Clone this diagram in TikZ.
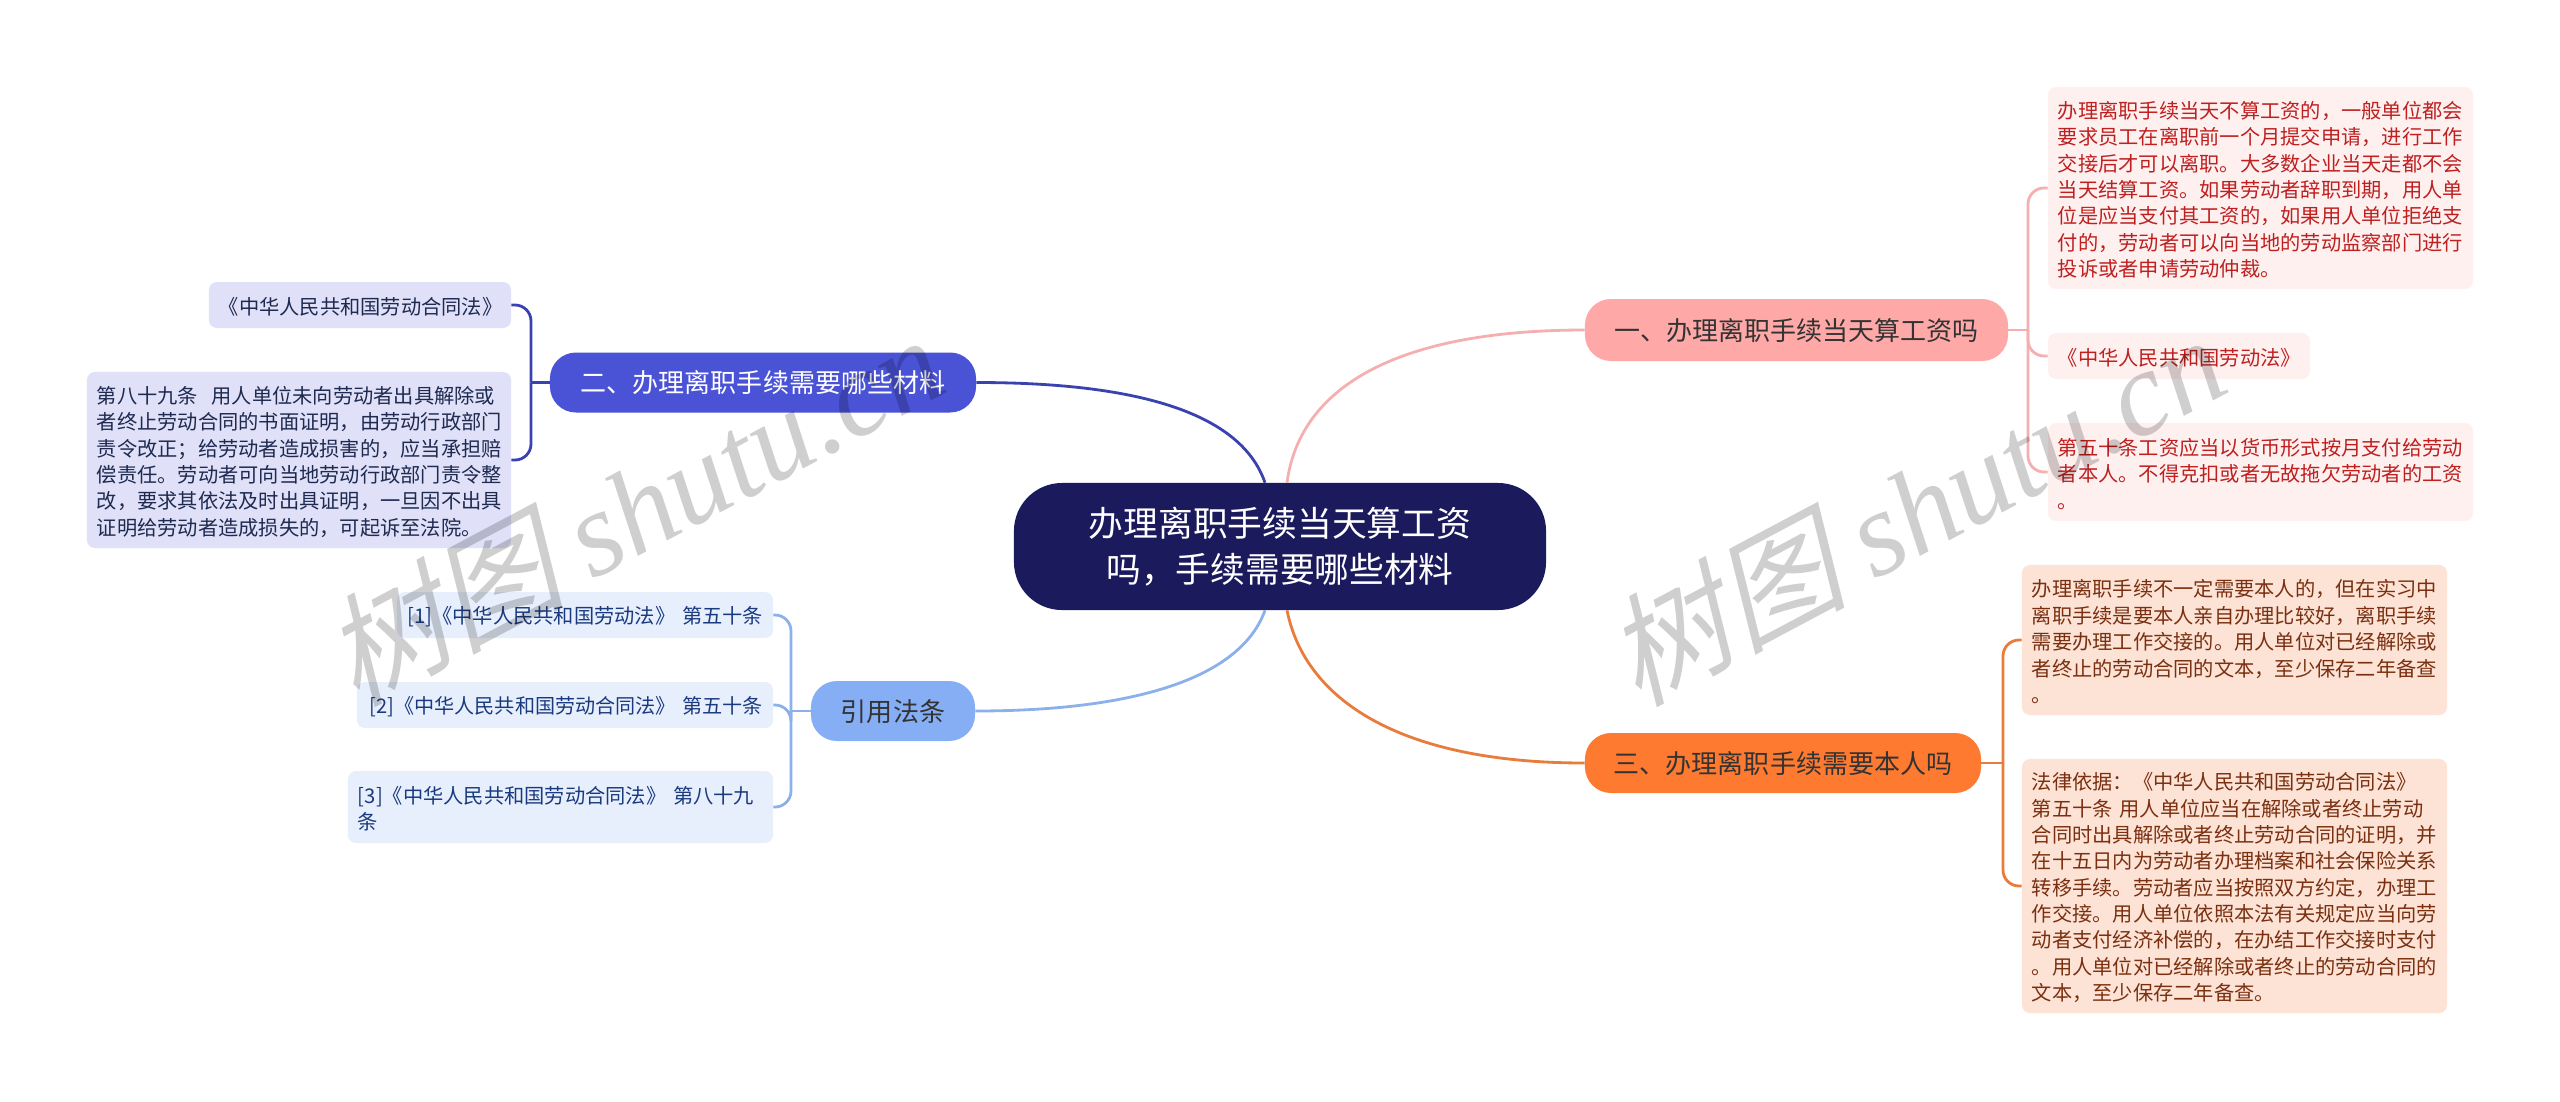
\documentclass[tikz,border=0pt]{standalone}
\usepackage{fontspec}
\usepackage{xcolor}
\usetikzlibrary{calc}
\setmainfont{Noto Sans CJK SC}
\newfontfamily\markcjk[FakeSlant=0.25]{Noto Sans CJK SC}
\newfontfamily\marklatin{Liberation Serif}[ItalicFont=* Italic]
\definecolor{rootfill}{HTML}{1B1A5C}
\definecolor{onefill}{HTML}{FFA8A8}
\definecolor{oneline}{HTML}{F4B0B0}
\definecolor{oneleaf}{HTML}{FFF0F0}
\definecolor{onetext}{HTML}{BE2020}
\definecolor{twofill}{HTML}{4A52D6}
\definecolor{twoline}{HTML}{3A42B0}
\definecolor{twoleaf}{HTML}{E0E1F8}
\definecolor{twotext}{HTML}{1E2A50}
\definecolor{threefill}{HTML}{FD7A30}
\definecolor{threeline}{HTML}{E87C3C}
\definecolor{threeleaf}{HTML}{FDE3D6}
\definecolor{threetext}{HTML}{7A3010}
\definecolor{reffill}{HTML}{85AEF5}
\definecolor{refline}{HTML}{8BB0EA}
\definecolor{refleaf}{HTML}{E7EFFC}
\definecolor{reftext}{HTML}{1A3A80}
\tikzset{
    rootbox/.style={fill=rootfill,text=white,rounded corners=1.2cm,align=center,
        minimum width=13.3cm,minimum height=3.175cm,font=\fontsize{24.7}{33}\selectfont},
    branchbox/.style={rounded corners=.65cm,minimum height=1.5cm,inner sep=0pt,
        text height=1.6em,text depth=.12em,font=\fontsize{18.5}{24}\selectfont},
    leafbox/.style={rounded corners=.2cm,inner xsep=.25cm,inner ysep=0pt,align=left,
        execute at begin node={\rule{0pt}{1.02em}},font=\fontsize{14.4}{18.75}\selectfont},
    link/.style={line width=2pt},
    brace/.style={line width=2pt,rounded corners=.4cm},
    markbox/.style={rotate=28,text=black,opacity=.19,inner sep=0pt}
}
\begin{document}
\begin{tikzpicture}[x=.025cm,y=-.025cm]
    \useasboundingbox (0,0) rectangle (2560,1101);
    \node[rootbox] (root) at (1280,546.5) {办理离职手续当天算工资\\吗，手续需要哪些材料};

    \node[branchbox,fill=onefill,text=black!80,minimum width=10.575cm,minimum height=1.55cm] (one) at (1796.5,330) {一、办理离职手续当天算工资吗};
    \node[branchbox,fill=twofill,text=white,minimum width=10.65cm] (two) at (763,382.5) {二、办理离职手续需要哪些材料};
    \node[branchbox,fill=threefill,text=black!80,minimum width=9.9cm] (three) at (1783,763) {三、办理离职手续需要本人吗};
    \node[branchbox,fill=reffill,text=black!80,minimum width=4.1cm] (refs) at (893,711) {引用法条};

    \node[leafbox,fill=oneleaf,text=onetext,text width=10.125cm,minimum height=5.05cm] (onea) at (2260.5,188) {办理离职手续当天不算工资的，一般单位都会\\要求员工在离职前一个月提交申请，进行工作\\交接后才可以离职。大多数企业当天走都不会\\当天结算工资。如果劳动者辞职到期，用人单\\位是应当支付其工资的，如果用人单位拒绝支\\付的，劳动者可以向当地的劳动监察部门进行\\投诉或者申请劳动仲裁。};
    \node[leafbox,fill=oneleaf,text=onetext,text width=6.05cm,minimum height=1.15cm] (oneb) at (2179,356) {《中华人民共和国劳动法》};
    \node[leafbox,fill=oneleaf,text=onetext,text width=10.125cm,minimum height=2.45cm] (onec) at (2260.5,472) {第五十条工资应当以货币形式按月支付给劳动\\者本人。不得克扣或者无故拖欠劳动者的工资\\。};

    \node[leafbox,fill=threeleaf,text=threetext,text width=10.125cm,minimum height=3.75cm] (threea) at (2234.5,640) {办理离职手续不一定需要本人的，但在实习中\\离职手续是要本人亲自办理比较好，离职手续\\需要办理工作交接的。用人单位对已经解除或\\者终止的劳动合同的文本，至少保存二年备查\\。};
    \node[leafbox,fill=threeleaf,text=threetext,text width=10.125cm,minimum height=6.35cm] (threeb) at (2234.5,886) {法律依据：《中华人民共和国劳动合同法》\\第五十条 用人单位应当在解除或者终止劳动\\合同时出具解除或者终止劳动合同的证明，并\\在十五日内为劳动者办理档案和社会保险关系\\转移手续。劳动者应当按照双方约定，办理工\\作交接。用人单位依照本法有关规定应当向劳\\动者支付经济补偿的，在办结工作交接时支付\\。用人单位对已经解除或者终止的劳动合同的\\文本，至少保存二年备查。};

    \node[leafbox,fill=twoleaf,text=twotext,text width=7.05cm,minimum height=1.15cm] (twoa) at (360,305) {《中华人民共和国劳动合同法》};
    \node[leafbox,fill=twoleaf,text=twotext,text width=10.1cm,minimum height=4.4cm] (twob) at (299,460) {第八十九条\ \ 用人单位未向劳动者出具解除或\\者终止劳动合同的书面证明，由劳动行政部门\\责令改正；给劳动者造成损害的，应当承担赔\\偿责任。劳动者可向当地劳动行政部门责令整\\改，要求其依法及时出具证明，一旦因不出具\\证明给劳动者造成损失的，可起诉至法院。};

    \node[leafbox,fill=refleaf,text=reftext,align=right,text width=8.9cm,minimum height=1.15cm] (refa) at (585,615) {[1]《中华人民共和国劳动法》 第五十条};
    \node[leafbox,fill=refleaf,text=reftext,align=right,text width=9.9cm,minimum height=1.15cm,font=\fontsize{14.3}{18.75}\selectfont] (refb) at (565,705) {[2]《中华人民共和国劳动合同法》 第五十条};
    \node[leafbox,fill=refleaf,text=reftext,text width=10.125cm,minimum height=1.8cm] (refc) at (560.5,807) {[3]《中华人民共和国劳动合同法》 第八十九\\条};

    \draw[link,oneline] ($(root.north)+(7,0)$) .. controls (1300,385) and (1400,330) .. (one.west);
    \draw[link,twoline] ($(root.north)+(-15,0)$) .. controls (1240,410) and (1130,382.5) .. (two.east);
    \draw[link,threeline] ($(root.south)+(7,0)$) .. controls (1305,700) and (1400,763) .. (three.west);
    \draw[link,refline] ($(root.south)+(-15,0)$) .. controls (1240,680) and (1130,711) .. (refs.east);

    \coordinate (onej) at (2028,330);
    \coordinate (twoj) at (531,382.5);
    \coordinate (threej) at (2003,763);
    \coordinate (refj) at (791,711);
    \draw[link,oneline] (one.east) -- (onej);
    \draw[link,twoline] (two.west) -- (twoj);
    \draw[link,threeline] (three.east) -- (threej);
    \draw[link,refline] (refs.west) -- (refj);
    \foreach \leaf in {onea,oneb,onec} {
        \draw[brace,oneline] (onej) |- (\leaf.west);
    }
    \foreach \leaf in {twoa,twob} {
        \draw[brace,twoline] (twoj) |- (\leaf.east);
    }
    \foreach \leaf in {threea,threeb} {
        \draw[brace,threeline] (threej) |- (\leaf.west);
    }
    \foreach \leaf in {refa,refb,refc} {
        \draw[brace,refline] (refj) |- (\leaf.east);
    }

    \node[markbox] (marka) at (632,508) {\fontsize{86}{86}\selectfont{\markcjk 树图} {\marklatin\itshape shutu.cn}};
    \node[markbox] (markb) at (1914,508) {\fontsize{86}{86}\selectfont{\markcjk 树图} {\marklatin\itshape shutu.cn}};
\end{tikzpicture}
\end{document}
